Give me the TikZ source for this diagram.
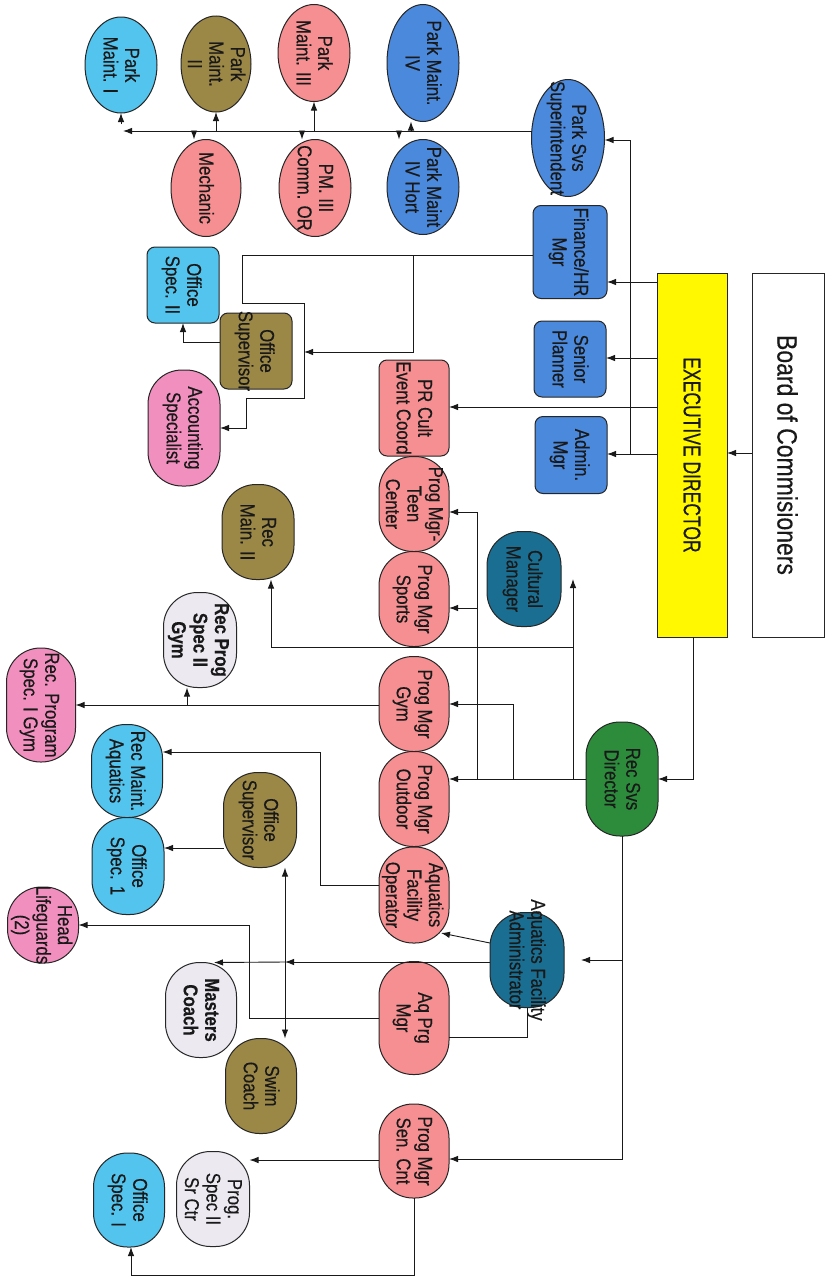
\documentclass[tikz,border=0pt]{standalone}
\usepackage{fontspec}
\newfontfamily\nf{Liberation Sans}[FakeStretch=0.84,FakeBold=0.35]
\newfontfamily\exf{Liberation Sans}[FakeStretch=0.73,FakeBold=0.3]
\newfontfamily\bdf{Liberation Sans}[FakeStretch=0.82,FakeBold=0.3]
\usetikzlibrary{shapes.geometric,arrows.meta,calc}
\definecolor{cLB}{RGB}{82,196,238}
\definecolor{cOl}{RGB}{155,135,70}
\definecolor{cSa}{RGB}{245,143,145}
\definecolor{cBl}{RGB}{74,137,220}
\definecolor{cHP}{RGB}{241,143,190}
\definecolor{cLv}{RGB}{236,233,241}
\definecolor{cTe}{RGB}{26,110,145}
\definecolor{cGr}{RGB}{45,140,60}
\definecolor{cYe}{RGB}{255,248,0}
\newcommand\zt[1]{\makebox[0pt]{\smash{\raisebox{-0.37em}{\begin{tabular}{@{}c@{}}#1\end{tabular}}}}}
\begin{document}
\begin{tikzpicture}[x=1pt,y=-1pt,
  base/.style={draw=black!85, line width=1pt, rotate=-90, inner sep=0pt, outer sep=0pt,
    font=\nf\fontsize{20}{21.5}\selectfont, text=black!90},
  ell/.style={base, ellipse},
  rbox/.style={base, rectangle, rounded corners=8pt},
  pill/.style={base, rectangle, rounded corners=34pt},
  sz/.style 2 args={minimum width=#1pt, minimum height=#2pt},
  ln/.style={line width=0.9pt, draw=black!90},
  arr/.style={ln, -{Latex[length=9pt,width=6.5pt]}},
  darr/.style={ln, {Latex[length=9pt,width=6.5pt]}-{Latex[length=9pt,width=6.5pt]}}
]
\useasboundingbox (0,0) rectangle (833,1277);
\fill[white] (0,0) rectangle (833,1277);

% ---------- top / park services ----------
\node[ell,sz={96}{72},fill=cLB] (pm1) at (121,65) {\zt{Park\\Maint. I}};
\node[ell,sz={96}{70},fill=cOl] (pm2) at (216,64) {\zt{Park\\Maint.\\II}};
\node[ell,sz={97}{72},fill=cSa] (pm3) at (314,53) {\zt{Park\\Maint. III}};
\node[ell,sz={117}{72},fill=cBl] (pm4) at (423,63) {\zt{Park Maint.\\IV}};
\node[ell,sz={117}{73},fill=cBl] (pss) at (568,138) {\zt{Park Svs\\Superintendent}};
\node[ell,sz={97}{70},fill=cSa] (mech) at (206,188) {\zt{Mechanic}};
\node[ell,sz={97}{72},fill=cSa] (pm3c) at (315,188) {\zt{PM. III\\Comm. OR}};
\node[ell,sz={95}{72},fill=cBl] (pm4h) at (423,187) {\zt{Park Maint\\IV Hort}};

% ---------- admin ----------
\node[rbox,sz={93}{74},fill=cBl] (fin) at (570,252) {\zt{Finance/HR\\Mgr}};
\node[rbox,sz={76}{72},fill=cLB] (os2) at (183,285) {\zt{Office\\Spec. II}};
\node[rbox,sz={76}{72},fill=cOl] (osup) at (256,351) {\zt{Office\\Supervisor}};
\node[rbox,sz={76}{72},fill=cBl] (sp) at (570,359) {\zt{Senior\\Planner}};
\node[rbox,sz={77}{72},fill=cBl] (adm) at (571,455) {\zt{Admin.\\Mgr}};
\node[pill,sz={116}{72},fill=cHP] (acc) at (184,428) {\zt{Accounting\\Specialist}};
\node[rbox,sz={96}{70},fill=cSa] (pr) at (414,408) {\zt{PR Cult\\Event Coord}};

\node[base,rectangle,sz={364}{70},fill=cYe,font=\exf\fontsize{24}{28}\selectfont] (exec) at (692,455) {\zt{EXECUTIVE DIRECTOR}};
\node[base,rectangle,sz={364}{72},fill=white,font=\bdf\fontsize{28}{32}\selectfont] (board) at (788,455) {\zt{Board of Commisioners}};

% ---------- recreation ----------
\node[pill,sz={95}{70},fill=cSa] (teen) at (414,504) {\zt{Prog Mgr-\\Teen\\Center}};
\node[pill,sz={95}{70},fill=cSa] (sports) at (414,599) {\zt{Prog Mgr\\Sports}};
\node[pill,sz={95}{72},fill=cOl] (recm) at (258,532) {\zt{Rec\\Main. II}};
\node[pill,sz={95}{74},fill=cTe] (cult) at (524,579) {\zt{Cultural\\Manager}};
\node[pill,sz={95}{73},fill=cLv] (rps2) at (200,640) {\zt{\textbf{Rec Prog}\\\textbf{Spec II}\\\textbf{Gym}}};
\node[pill,sz={114}{69},fill=cHP] (rps1) at (41,705) {\zt{Rec. Program\\Spec. I Gym}};
\node[pill,sz={95}{70},fill=cSa] (gym) at (414,704) {\zt{Prog Mgr\\Gym}};
\node[pill,sz={93}{71},fill=cLB] (rma) at (127,771) {\zt{Rec Maint.\\Aquatics}};
\node[pill,sz={95}{73},fill=cOl] (osup2) at (260,820) {\zt{Office\\Supervisor}};
\node[pill,sz={95}{70},fill=cSa] (outd) at (414,799) {\zt{Prog Mgr\\Outdoor}};
\node[pill,sz={114}{72},fill=cGr] (rsd) at (622,779) {\zt{Rec Svs\\Director}};
\node[pill,sz={97}{72},fill=cLB] (os1) at (128,866) {\zt{Office\\Spec. 1}};
\node[pill,sz={96}{70},fill=cSa] (afo) at (414,895) {\zt{Aquatics\\Facility\\Operator}};
\node[pill,sz={76}{71},fill=cHP] (hl) at (43,925) {\zt{Head\\Lifeguards\\(2)}};
\node[pill,sz={95}{74},fill=cTe] (afa) at (527,960) {\zt{Aquatics Facility\\Administrator}};
\node[pill,sz={95}{71},fill=cLv] (mc) at (201,1010) {\zt{\textbf{Masters}\\\textbf{Coach}}};
\node[pill,sz={95}{71},fill=cOl] (swim) at (261,1086) {\zt{Swim\\Coach}};
\node[pill,sz={113}{70},fill=cSa] (aqpm) at (414,1018) {\zt{Aq Prg\\Mgr}};
\node[pill,sz={94}{70},fill=cSa] (senc) at (414,1151) {\zt{Prog Mgr\\Sen. Cnt}};
\node[pill,sz={95}{73},fill=cLv] (ps2) at (213,1199) {\zt{Prog.\\Spec II\\Sr Ctr}};
\node[pill,sz={94}{71},fill=cLB] (osI) at (129,1200) {\zt{Office\\Spec. I}};

% ---------- connectors: park ----------
\coordinate (pend) at (123,131);
\draw[arr] (pss.south |- 0,131) -- (pend);
\draw[arr] (pm1.east |- 0,124) -- (pm1.east);
\draw[arr] (pm2.east |- 0,131) -- (pm2.east);
\draw[arr] (194,131) -- (mech.west -| 194,0);
\draw[arr] (pm3.east |- 0,131) -- (pm3.east);
\draw[arr] (302,131) -- (pm3c.west -| 302,0);
\draw[arr] (411,131) -- (pm4.east -| 411,0);
\draw[arr] (399,131) -- (pm4h.west -| 399,0);

% ---------- connectors: executive ----------
\draw[arr] (board.south |- 0,453) -- (exec.north |- 0,453);
\draw[arr] (exec.south |- 0,282) -- (fin.north |- 0,282);
\draw[arr] (exec.south |- 0,358) -- (sp.north |- 0,358);
\draw[arr] (exec.south |- 0,454) -- (adm.north |- 0,454);
\draw[arr] (630,454) |- (pss.north |- 0,140);
\draw[arr] (exec.south |- 0,407) -- (pr.north |- 0,407);
\draw[arr] (exec.east -| 693,0) |- (rsd.north);

% ---------- connectors: finance ----------
\draw[arr] (fin.south |- 0,255) -- (242,255) -- (242,303) -- (304,303) -- (304,398)
   -- (246,398) -- (246,428) -- (acc.north |- 0,428);
\draw[arr,shorten >=12pt] (413,255) |- (osup.north |- 0,352);
\draw[arr] (osup.south |- 0,342) -| (os2.east);

% ---------- connectors: recreation ----------
\draw[arr] (rsd.south) -- (outd.north |- 0,779);
\draw[arr] (477,779) |- (teen.north |- 0,512);
\draw[arr] (477,608) -- (sports.north |- 0,608);
\draw[arr] (513,779) |- (gym.north |- 0,704);
\draw[arr] (573,779) -- (cult.north -| 573,0);
\draw[arr] (573,647) -| (recm.east -| 271,0);
\draw[arr] (gym.south |- 0,705) -- (rps1.north |- 0,705);
\draw[arr] (187,705) -- (rps2.east -| 187,0);
\draw[arr] (rsd.east) |- (senc.north |- 0,1159);
\draw[arr,shorten >=17pt] (622,960) -- (afa.north);

% ---------- connectors: aquatics ----------
\draw[arr] (afa.south |- 0,943) -- ($(afo.center)+(27,38)$);
\draw[arr] (afa.south |- 0,962) -- (285,962);
\draw[arr] (285,962) -- (mc.west -| 214,0);
\draw[darr] (osup2.east -| 285,0) -- (swim.west -| 285,0);
\draw[arr] (afo.south |- 0,885) -| (320,752) -- (rma.north |- 0,752);
\draw[arr] (osup2.south |- 0,848) -- (os1.north |- 0,848);
\draw[arr] (aqpm.south |- 0,1018) -| (249,925) -- (hl.north |- 0,925);
\draw[ln] (aqpm.north |- 0,1037) -| (afa.east);

% ---------- connectors: senior center ----------
\draw[arr] (senc.south |- 0,1160) -- (ps2.north |- 0,1160);
\draw[arr] (senc.east) |- (131,1275) -- (osI.east -| 131,0);
\end{tikzpicture}
\end{document}
